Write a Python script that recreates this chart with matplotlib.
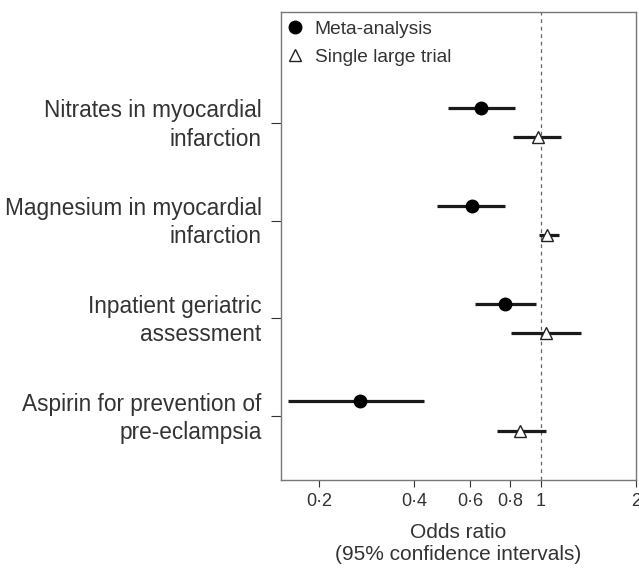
import matplotlib
matplotlib.use("Agg")
import matplotlib.pyplot as plt
import matplotlib.transforms as mtransforms
from matplotlib.ticker import FixedLocator, FixedFormatter, NullLocator

plt.rcParams['font.family'] = ['Liberation Sans', 'DejaVu Sans']

# data (odds ratio, lower CI, upper CI)
labels = ["Nitrates in myocardial\ninfarction",
          "Magnesium in myocardial\ninfarction",
          "Inpatient geriatric\nassessment",
          "Aspirin for prevention of\npre-eclampsia"]
meta_or = [0.65, 0.61, 0.77, 0.27]
meta_lo = [0.51, 0.47, 0.62, 0.16]
meta_hi = [0.83, 0.77, 0.97, 0.43]
trial_or = [0.98, 1.05, 1.04, 0.86]
trial_lo = [0.82, 0.99, 0.81, 0.73]
trial_hi = [1.16, 1.14, 1.34, 1.04]
xtick_vals = [0.2, 0.4, 0.6, 0.8, 1, 2]
xtick_labels = ["0\u00b72", "0\u00b74", "0\u00b76", "0\u00b78", "1", "2"]

fig = plt.figure(figsize=(6.39, 5.72), dpi=100)
ax = fig.add_axes([281/639, 1-480/572, 355/639, 468/572])

n = len(labels)
ypos = [n - 1 - i for i in range(n)]
off = 0.15
line_col = "#1a1a1a"

for i in range(n):
    y = ypos[i]
    ax.plot([meta_lo[i], meta_hi[i]], [y + off, y + off], color=line_col, lw=2.3, solid_capstyle='butt', zorder=2)
    ax.plot([trial_lo[i], trial_hi[i]], [y - off, y - off], color=line_col, lw=2.3, solid_capstyle='butt', zorder=2)

ax.plot(meta_or, [y + off for y in ypos], 'o', color='black', ms=9, ls='none', zorder=3, label="Meta-analysis")
ax.plot(trial_or, [y - off for y in ypos], '^', mfc='white', mec='#222222', mew=1.0, ms=8, ls='none', zorder=3, label="Single large trial")

ax.axvline(1, color='#666666', lw=0.9, ls=(0, (3, 3)), zorder=1)

ax.set_xscale('log')
ax.set_xlim(0.152, 2.0)
ax.set_ylim(-0.653, n - 1 + 1.133)

ax.xaxis.set_major_locator(FixedLocator(xtick_vals))
ax.xaxis.set_major_formatter(FixedFormatter(xtick_labels))
ax.xaxis.set_minor_locator(NullLocator())
ax.set_yticks(ypos)
ax.set_yticklabels(labels, ha='right', multialignment='right')

ax.tick_params(axis='x', labelsize=13, colors='#333333', length=5, width=0.8, pad=4)
ax.tick_params(axis='y', labelsize=16.3, colors='#333333', length=7, width=0.8, pad=7)
# nudge the category labels up a little
shift = mtransforms.ScaledTranslation(0, 3/100, fig.dpi_scale_trans)
for lab in ax.get_yticklabels():
    lab.set_linespacing(1.3)
    lab.set_transform(lab.get_transform() + shift)
for s in ax.spines.values():
    s.set_color('#777777')
    s.set_linewidth(1.0)

ax.set_xlabel("Odds ratio\n(95% confidence intervals)", fontsize=15, color='#333333', labelpad=10, linespacing=1.2)

leg = ax.legend(loc='upper left', frameon=False, fontsize=13.8, handletextpad=0.7,
                borderaxespad=0.05, labelspacing=0.55, handlelength=0.6, borderpad=0.4,
                labelcolor='#333333')

fig.savefig("out.png", dpi=100)
